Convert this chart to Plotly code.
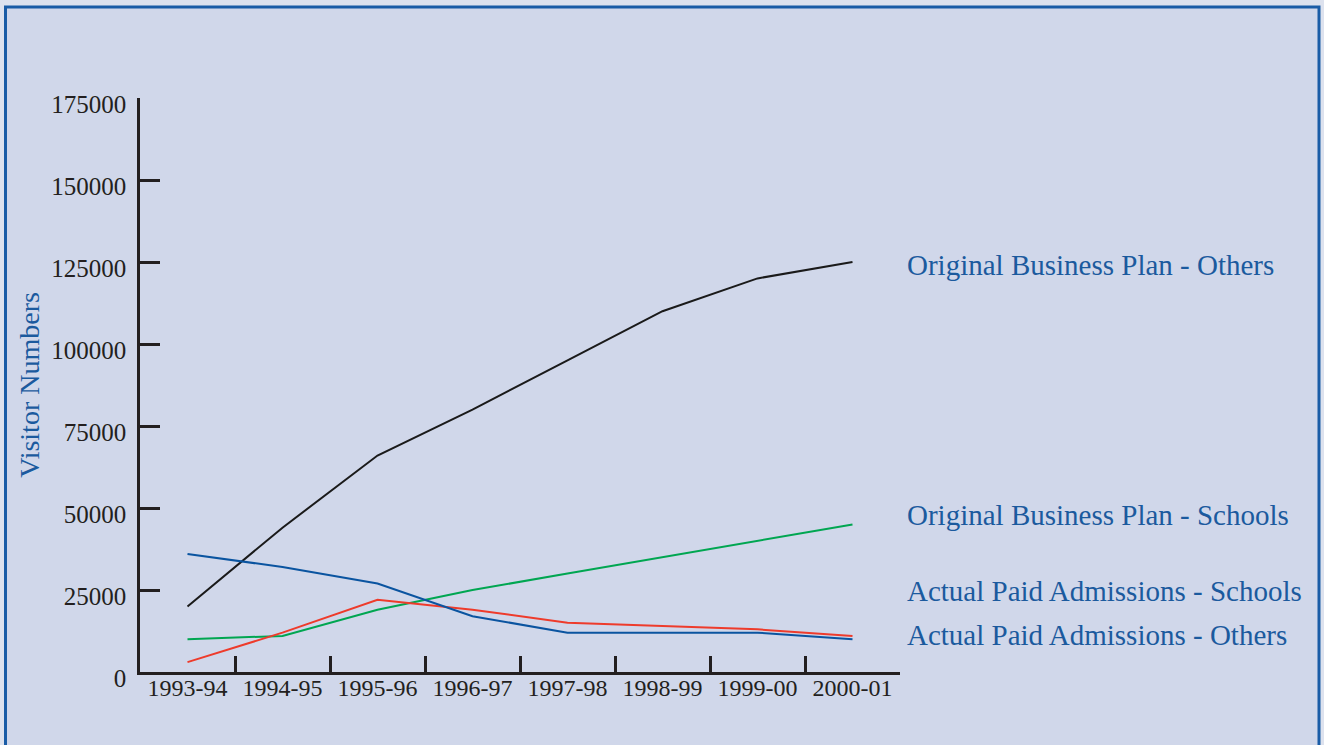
import plotly.graph_objects as go

years = ["1993-94", "1994-95", "1995-96", "1996-97", "1997-98", "1998-99", "1999-00", "2000-01"]

plan_others = [20000, 44000, 66000, 80000, 95000, 110000, 120000, 125000]
plan_schools = [10000, 11000, 19000, 25000, 30000, 35000, 40000, 45000]
actual_schools = [3000, 12000, 22000, 19000, 15000, 14000, 13000, 11000]
actual_others = [36000, 32000, 27000, 17000, 12000, 12000, 12000, 10000]

series_names = ["Original Business Plan - Others", "Original Business Plan - Schools",
                "Actual Paid Admissions - Schools", "Actual Paid Admissions - Others"]
label_y = [124000, 48000, 24700, 11300]

y_ticks = [0, 25000, 50000, 75000, 100000, 125000, 150000, 175000]

W, H = 1324, 745
L, R, T, B = 140, 424, 98, 73
pw, ph = W - L - R, H - T - B

font = "Liberation Serif, Times New Roman, serif"
text_blue = "#1B5A9E"
axis_col = "#231F20"

fig = go.Figure()
colors = ["#1A1A1A", "#00A651", "#EE3B2B", "#0A54A0"]
for vals, name, c in zip([plan_others, plan_schools, actual_schools, actual_others], series_names, colors):
    fig.add_trace(go.Scatter(x=years, y=vals, mode="lines", name=name,
                             line=dict(color=c, width=2), showlegend=False))

for name, yv in zip(series_names, label_y):
    fig.add_annotation(x=(905 - L) / pw, xref="paper", y=yv, yref="y", text=name,
                       showarrow=False, xanchor="left", yanchor="middle",
                       font=dict(family=font, size=29, color=text_blue))

# background panel with border
fig.add_shape(type="rect", xref="paper", yref="paper", layer="below",
              x0=(5.5 - L) / pw, x1=(1319 - L) / pw,
              y0=(H - B - 770) / ph, y1=(H - B - 7) / ph,
              line=dict(color="#1A5CA6", width=3), fillcolor="#D0D7EA")

fig.update_layout(
    width=W, height=H,
    margin=dict(l=L, r=R, t=T, b=B),
    paper_bgcolor="#DDE2EE",
    plot_bgcolor="rgba(0,0,0,0)",
    font=dict(family=font, color=axis_col),
)
fig.update_xaxes(type="category", range=[-0.5, 7.5], tickson="boundaries",
                 ticks="inside", ticklen=16, tickwidth=2.5, tickcolor=axis_col,
                 showline=True, linecolor=axis_col, linewidth=2.5,
                 showgrid=False, zeroline=False, ticklabelstandoff=-8,
                 tickfont=dict(family=font, size=24, color=axis_col))
fig.update_yaxes(range=[0, 175000], tickvals=y_ticks, ticktext=[str(v) for v in y_ticks],
                 ticks="inside", ticklen=20, tickwidth=2.5, tickcolor=axis_col,
                 showline=True, linecolor=axis_col, linewidth=2.5,
                 showgrid=False, zeroline=False, ticklabelstandoff=6, ticklabelshift=6,
                 tickfont=dict(family=font, size=25, color=axis_col),
                 title=dict(text="Visitor Numbers", standoff=4,
                            font=dict(family=font, size=28, color=text_blue)))

fig.write_html("out.html")
